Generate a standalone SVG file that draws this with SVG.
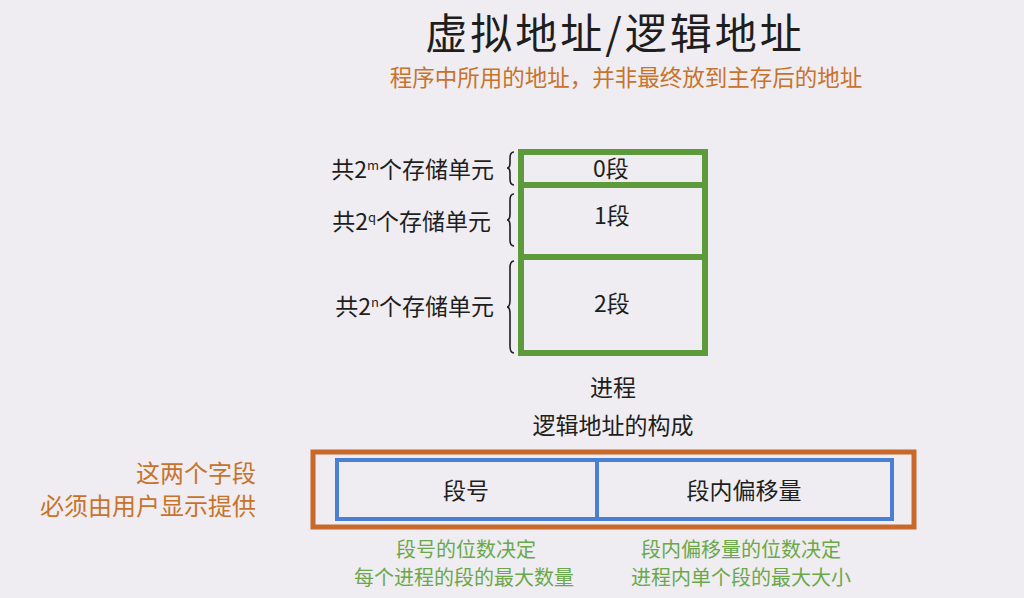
<svg xmlns="http://www.w3.org/2000/svg" width="1024" height="598" viewBox="0 0 1024 598">
<style>
text{font-family:"Noto Sans CJK SC","Liberation Sans",sans-serif}
.dark{fill:#1e1e1e}
.orange{fill:#c8732c}
.green{fill:#6aa84a}
.lbl{font-size:23px;fill:#1e1e1e}
.seg{fill:none;stroke:#5d9a3c;stroke-width:6}
.brace{fill:none;stroke:#1e1e1e;stroke-width:1.6}
</style>
<rect width="1024" height="598" fill="#efedf1"/>
<g id="title">
<text x="615" y="49" text-anchor="middle" font-size="42" letter-spacing="3" class="dark">虚拟地址/逻辑地址</text>
<text x="626" y="86" text-anchor="middle" font-size="22.5" class="orange">程序中所用的地址，并非最终放到主存后的地址</text>
</g>
<g id="seg0">
<rect x="521" y="152" width="184" height="33" class="seg"/>
<text x="611" y="177" text-anchor="middle" class="lbl">0段</text>
</g>
<g id="seg1">
<rect x="521" y="185" width="184" height="72" class="seg"/>
<text x="612" y="224" text-anchor="middle" class="lbl">1段</text>
</g>
<g id="seg2">
<rect x="521" y="257" width="184" height="96" class="seg"/>
<text x="612" y="312" text-anchor="middle" class="lbl">2段</text>
</g>
<g id="labels">
<text x="494" y="178" text-anchor="end" class="lbl">共2<tspan font-size="13" dy="-8">m</tspan><tspan dy="8">个存储单元</tspan></text>
<text x="491" y="230" text-anchor="end" class="lbl">共2<tspan font-size="13" dy="-8">q</tspan><tspan dy="8">个存储单元</tspan></text>
<text x="494" y="315" text-anchor="end" class="lbl">共2<tspan font-size="13" dy="-8">n</tspan><tspan dy="8">个存储单元</tspan></text>
<path class="brace" d="M514,152 Q510,152 510,158 L510,163 Q510,168 507,168 Q510,168 510,173 L510,179 Q510,185 514,185"/>
<path class="brace" d="M514,194 Q510,194 510,200 L510,214 Q510,220 507,220 Q510,220 510,226 L510,240 Q510,246 514,246"/>
<path class="brace" d="M514,261 Q510,261 510,268 L510,300 Q510,307 507,307 Q510,307 510,314 L510,346 Q510,353 514,353"/>
</g>
<g id="captions">
<text x="613" y="396" text-anchor="middle" class="lbl">进程</text>
<text x="613" y="434" text-anchor="middle" class="lbl">逻辑地址的构成</text>
</g>
<g id="address">
<rect x="313" y="452" width="601" height="75" fill="none" stroke="#c8682a" stroke-width="5"/>
<rect x="337" y="460" width="260" height="59" fill="none" stroke="#4a7fd6" stroke-width="4"/>
<rect x="597" y="460" width="295" height="59" fill="none" stroke="#4a7fd6" stroke-width="4"/>
<text x="466" y="499" text-anchor="middle" class="lbl">段号</text>
<text x="744" y="499" text-anchor="middle" class="lbl">段内偏移量</text>
</g>
<g id="notes">
<text x="256" y="482" text-anchor="end" font-size="24" class="orange">这两个字段</text>
<text x="256" y="515" text-anchor="end" font-size="24" class="orange">必须由用户显示提供</text>
<text x="466" y="557" text-anchor="middle" font-size="20" class="green">段号的位数决定</text>
<text x="464" y="585" text-anchor="middle" font-size="20" class="green">每个进程的段的最大数量</text>
<text x="741" y="557" text-anchor="middle" font-size="20" class="green">段内偏移量的位数决定</text>
<text x="741" y="585" text-anchor="middle" font-size="20" class="green">进程内单个段的最大大小</text>
</g>
</svg>
